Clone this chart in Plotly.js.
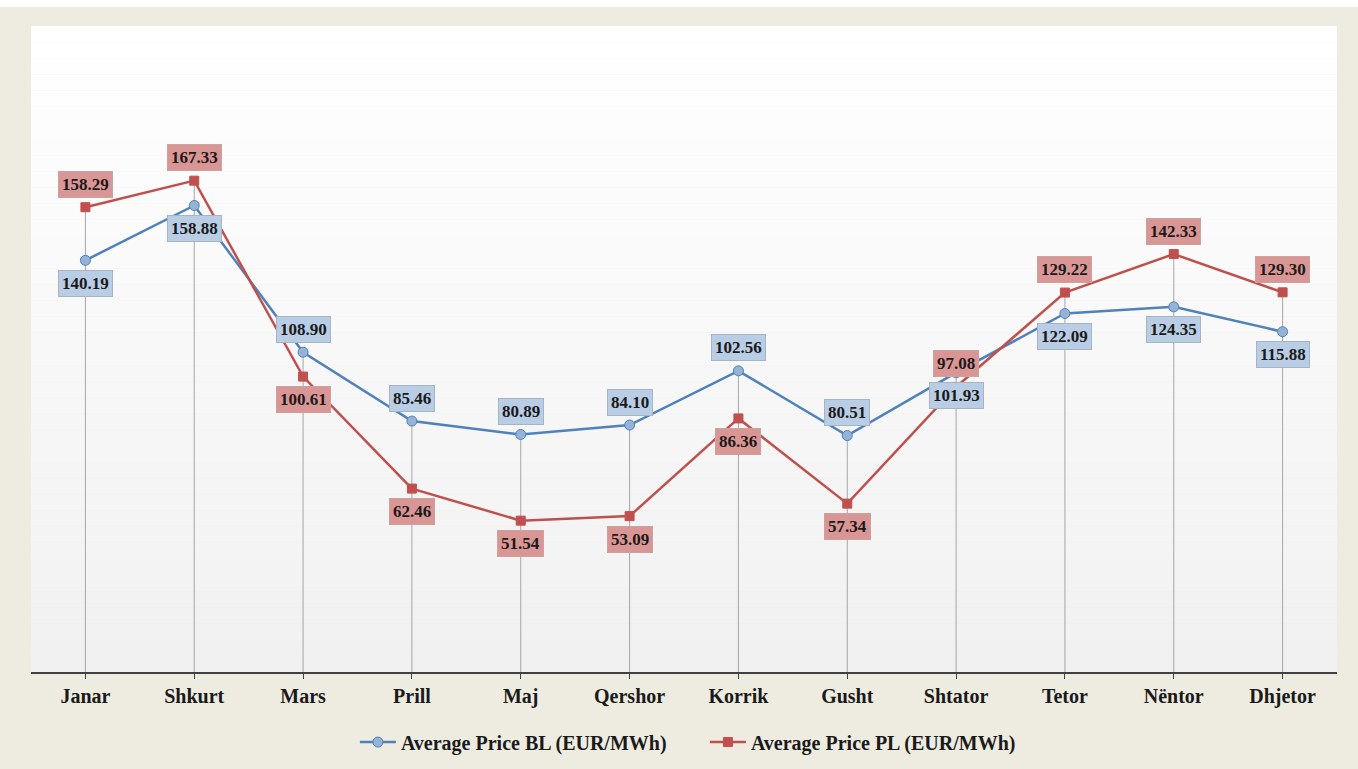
<!DOCTYPE html>
<html>
<head>
<meta charset="utf-8">
<script src="https://cdn.plot.ly/plotly-3.0.1.min.js"></script>
<style>html,body{margin:0;padding:0;background:#fff;}#chart{width:1358px;height:769px;}</style>
</head>
<body>
<div id="chart"></div>
<script>
const months = ["Janar","Shkurt","Mars","Prill","Maj","Qershor","Korrik","Gusht","Shtator","Tetor","Nëntor","Dhjetor"];
const priceBL = [140.19,158.88,108.90,85.46,80.89,84.10,102.56,80.51,101.93,122.09,124.35,115.88];
const pricePL = [158.29,167.33,100.61,62.46,51.54,53.09,86.36,57.34,97.08,129.22,142.33,129.30];
const nameBL = "Average Price BL (EUR/MWh)";
const namePL = "Average Price PL (EUR/MWh)";

// label placement (style): +1 above, -1 below
const posBL = [-1,-1,1,1,1,1,1,1,-1,-1,-1,-1];
const posPL = [1,1,-1,-1,-1,-1,-1,-1,1,1,1,1];

const FONT = "Liberation Serif, DejaVu Serif, serif";
const blue = "#4F81BD", red = "#C0504D";

const traces = [
  {x: months, y: priceBL, name: nameBL, type: "scatter", mode: "lines+markers",
   line: {color: blue, width: 2.5},
   marker: {symbol: "circle", size: 10, color: "#95B3D7", line: {color: blue, width: 1}}},
  {x: months, y: pricePL, name: namePL, type: "scatter", mode: "lines+markers",
   line: {color: red, width: 2.5},
   marker: {symbol: "square", size: 9, color: red, line: {color: red, width: 1}}}
];

const shapes = [];
// gradient plot background
const N = 40;
for (let i = 0; i < N; i++) {
  const t = i / (N - 1);
  const c = Math.round(255 - (255 - 241) * t);
  shapes.push({type: "rect", xref: "paper", yref: "paper", x0: 0, x1: 1,
    y0: 1 - (i + 1) / N, y1: 1 - i / N, fillcolor: `rgb(${c},${c},${c})`,
    line: {width: 0}, layer: "below"});
}
// white strip at very top of image
shapes.push({type: "rect", xref: "paper", yref: "paper", x0: -0.03, x1: 1.03,
  y0: 1.0294, y1: 1.06, fillcolor: "#ffffff", line: {width: 0}, layer: "below"});
// drop lines from the higher point to the axis
months.forEach((m, i) => {
  shapes.push({type: "line", xref: "x", yref: "y", x0: m, x1: m, y0: 0,
    y1: Math.max(priceBL[i], pricePL[i]), line: {color: "#A6A6A6", width: 1}, layer: "below"});
});

const annotations = [];
months.forEach((m, i) => {
  annotations.push({x: m, y: priceBL[i], text: priceBL[i].toFixed(2), showarrow: false,
    yshift: 23 * posBL[i], bgcolor: "#B9CDE5", bordercolor: "#A5B4C6", borderwidth: 1, borderpad: 3,
    font: {family: FONT, size: 17, color: "#1a1a1a", weight: "bold"}});
  annotations.push({x: m, y: pricePL[i], text: pricePL[i].toFixed(2), showarrow: false,
    yshift: 23 * posPL[i], bgcolor: "#DA9694", bordercolor: "#C9A3A2", borderwidth: 1, borderpad: 3,
    font: {family: FONT, size: 17, color: "#1a1a1a", weight: "bold"}});
});

const layout = {
  width: 1358, height: 769,
  margin: {l: 31, r: 21, t: 26, b: 97, autoexpand: false},
  paper_bgcolor: "#EEECE1",
  plot_bgcolor: "rgba(0,0,0,0)",
  showlegend: true,
  legend: {orientation: "h", x: 0.516, xanchor: "center", xref: "paper",
    yref: "container", y: 0.035, yanchor: "middle",
    font: {family: FONT, size: 20, color: "#1a1a1a", weight: "bold"}, bgcolor: "rgba(0,0,0,0)",
    itemwidth: 36, entrywidth: 299, entrywidthmode: "pixels", tracegroupgap: 0},
  xaxis: {type: "category", range: [-0.5, 11.5], showgrid: false, zeroline: false,
    showline: true, linecolor: "#404040", linewidth: 2,
    ticks: "outside", ticklen: 5, tickcolor: "#404040", tickwidth: 1,
    tickfont: {family: FONT, size: 20, color: "#1a1a1a", weight: "bold"}, fixedrange: true},
  yaxis: {range: [0, 220], visible: false, showgrid: false, zeroline: false, fixedrange: true},
  shapes: shapes,
  annotations: annotations
};

Plotly.newPlot("chart", traces, layout, {displayModeBar: false, staticPlot: true});
</script>
</body>
</html>
